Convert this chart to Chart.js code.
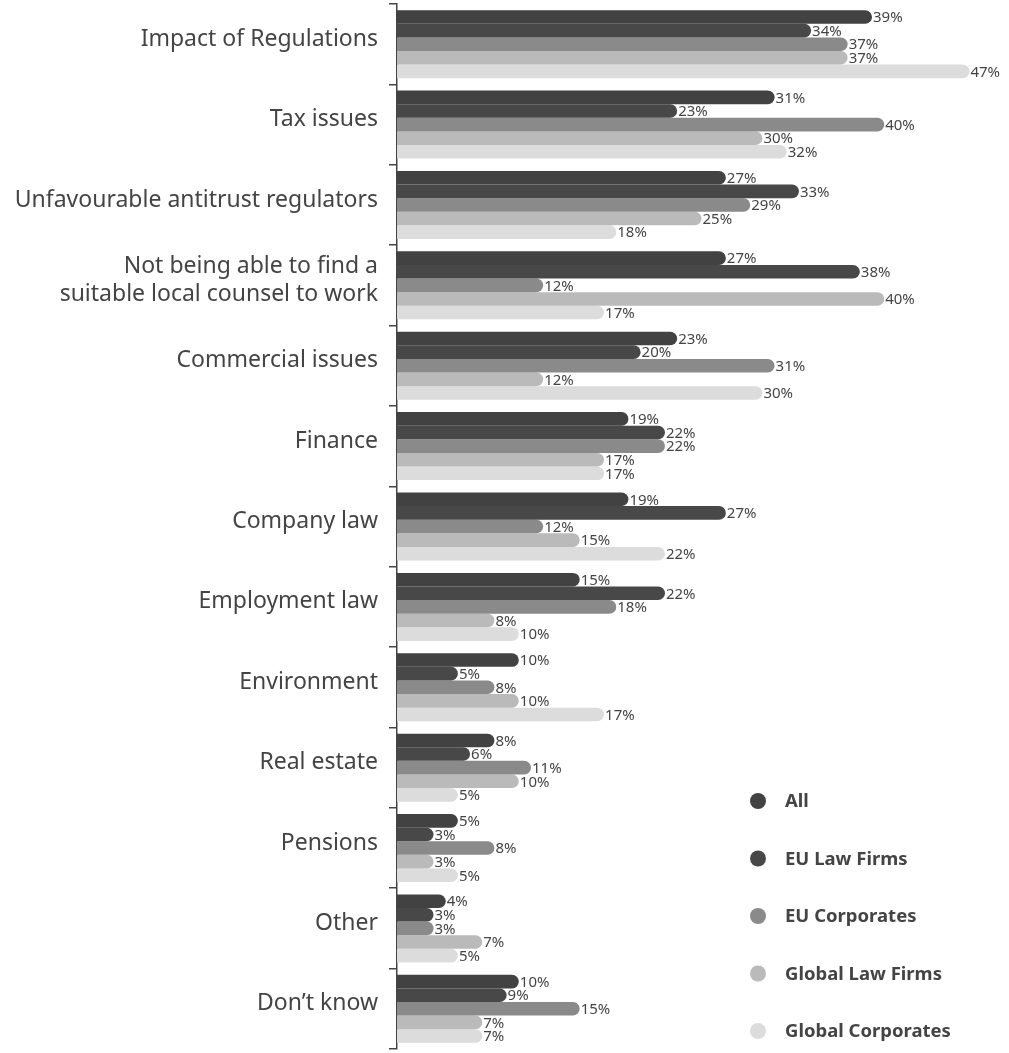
<!DOCTYPE html>
<html lang="en">
<head>
  <meta charset="UTF-8">
  <title>Barriers chart</title>
  <script src="https://cdn.jsdelivr.net/npm/chart.js"></script>
  <style>
    html, body {
      margin: 0;
      background: #fff;
    }
    #wrap {
      width: 1009px;
      height: 1053px;
      position: relative;
    }
  </style>
</head>
<body>
  <div id="wrap"><canvas id="chart"></canvas></div>

  <script>
    const categories = [
      'Impact of Regulations',
      'Tax issues',
      'Unfavourable antitrust regulators',
      ['Not being able to find a', 'suitable local counsel to work'],
      'Commercial issues',
      'Finance',
      'Company law',
      'Employment law',
      'Environment',
      'Real estate',
      'Pensions',
      'Other',
      'Don’t know'
    ];

    const seriesNames = ['All', 'EU Law Firms', 'EU Corporates', 'Global Law Firms', 'Global Corporates'];
    const seriesColors = ['#424242', '#484848', '#8a8a8a', '#bababa', '#dcdcdc'];

    const allValues        = [39, 31, 27, 27, 23, 19, 19, 15, 10, 8, 5, 4, 10];
    const euLawFirms       = [34, 23, 33, 38, 20, 22, 27, 22, 5, 6, 3, 3, 9];
    const euCorporates     = [37, 40, 29, 12, 31, 22, 12, 18, 8, 11, 8, 3, 15];
    const globalLawFirms   = [37, 30, 25, 40, 12, 17, 15, 8, 10, 10, 3, 7, 7];
    const globalCorporates = [47, 32, 18, 17, 30, 17, 22, 10, 17, 5, 5, 5, 7];

    const seriesValues = [allValues, euLawFirms, euCorporates, globalLawFirms, globalCorporates];

    // value labels at the end of each bar
    const valueLabels = {
      id: 'valueLabels',
      afterDatasetsDraw(chart) {
        const c = chart.ctx;
        c.save();
        c.font = '15px "Noto Sans", sans-serif';
        c.fillStyle = '#444';
        c.textAlign = 'left';
        c.textBaseline = 'middle';
        chart.data.datasets.forEach((ds, i) => {
          chart.getDatasetMeta(i).data.forEach((bar, j) => {
            c.fillText(ds.data[j] + '%', bar.x + 1, bar.y + 1);
          });
        });
        c.restore();
      }
    };

    // legend in the lower right corner
    const sideLegend = {
      id: 'sideLegend',
      afterDraw(chart) {
        const c = chart.ctx;
        c.save();
        c.font = 'bold 18.5px "Noto Sans", sans-serif';
        c.textBaseline = 'middle';
        chart.data.datasets.forEach((ds, i) => {
          const y = 801 + i * 57.5;
          c.fillStyle = ds.backgroundColor;
          c.beginPath();
          c.arc(758, y, 8, 0, Math.PI * 2);
          c.fill();
          c.fillStyle = '#444';
          c.fillText(ds.label, 785, y + 1);
        });
        c.restore();
      }
    };

    new Chart(document.getElementById('chart'), {
      type: 'bar',
      data: {
        labels: categories,
        datasets: seriesNames.map((name, i) => ({
          label: name,
          data: seriesValues[i],
          backgroundColor: seriesColors[i],
          borderRadius: { topRight: 7, bottomRight: 7 },
          borderSkipped: false,
          categoryPercentage: 0.846,
          barPercentage: 1.0
        }))
      },
      options: {
        indexAxis: 'y',
        responsive: true,
        maintainAspectRatio: false,
        animation: false,
        layout: { padding: { top: 4, bottom: 4, right: 3, left: 0 } },
        plugins: {
          legend: { display: false },
          tooltip: { enabled: false }
        },
        scales: {
          x: {
            min: 0,
            max: 50,
            display: false
          },
          y: {
            afterFit(scale) {
              scale.width = 397;
              scale.paddingTop = 0;
              scale.paddingBottom = 0;
            },
            border: { display: true, color: '#444', width: 1.5 },
            grid: {
              offset: true,
              drawOnChartArea: false,
              drawTicks: true,
              tickLength: 8,
              color: '#444',
              lineWidth: 1.5
            },
            ticks: {
              color: '#444',
              padding: 11,
              labelOffset: -5,
              font: { family: '"Noto Sans", sans-serif', size: 23 }
            }
          }
        }
      },
      plugins: [valueLabels, sideLegend]
    });
  </script>
</body>
</html>
